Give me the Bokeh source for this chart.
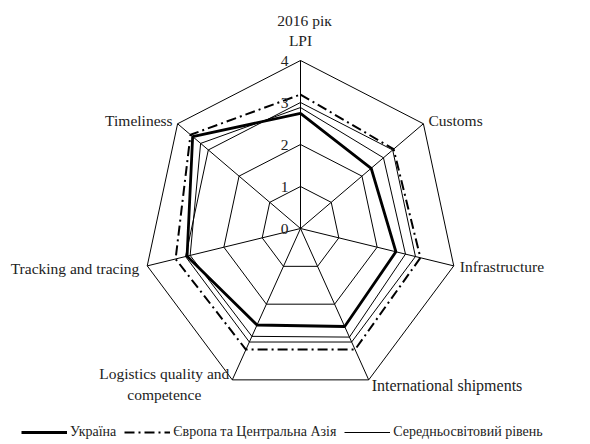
import numpy as np
from bokeh.plotting import figure
from bokeh.models import Range1d, Legend, LegendItem
from bokeh.core.properties import value
from bokeh.embed import file_html
from bokeh.resources import INLINE

# ---- data ----
categories = ["LPI", "Customs", "Infrastructure", "International shipments",
              "Logistics quality and competence", "Tracking and tracing", "Timeliness"]
ukraine = [2.74, 2.30, 2.49, 2.59, 2.55, 2.96, 3.51]
europe_ca = [3.19, 3.03, 3.13, 3.20, 3.20, 3.26, 3.58]
world_avg = [2.88, 2.70, 2.74, 2.87, 2.85, 2.88, 3.25]
ticks = [0, 1, 2, 3, 4]
series_names = ["Україна", "Європа та Центральна Азія", "Середньосвітовий рівень"]
title_text = "2016 рік"

# ---- layout ----
W, H = 574, 440
cx, cy = 300, 228          # center in canvas px
kx, ky = 39.3, 42.0        # px per unit
FONT = value("Liberation Serif")
FS = "15.5px"

n = len(categories)
theta = np.arange(n) * 2 * np.pi / n
rmax = ticks[-1]

p = figure(width=W, height=H, output_backend="svg", toolbar_location=None,
           x_range=Range1d(-cx / kx, (W - cx) / kx),
           y_range=Range1d(-(H - cy) / ky, cy / ky),
           min_border=0, outline_line_color=None)
p.axis.visible = False
p.grid.visible = False
p.background_fill_color = "white"


def closed(vals):
    v = np.asarray(vals, dtype=float)
    xs = v * np.sin(theta)
    ys = v * np.cos(theta)
    return list(xs) + [xs[0]], list(ys) + [ys[0]]


# grid polygons
for t in ticks[1:]:
    gx, gy = closed([t] * n)
    p.line(gx, gy, line_color="black", line_width=1)
# spokes
p.segment(x0=[0] * n, y0=[0] * n, x1=list(rmax * np.sin(theta)), y1=list(rmax * np.cos(theta)),
          line_color="black", line_width=1)

# series
wx, wy = closed(world_avg)
r_world = p.line(wx, wy, line_color="black", line_width=1)
ex, ey = closed(europe_ca)
r_eu = p.line(ex, ey, line_color="black", line_width=2, line_dash="10 4 2 4")
ux, uy = closed(ukraine)
r_ua = p.line(ux, uy, line_color="black", line_width=2.8)

# tick labels
p.text(x=[0] * len(ticks), y=ticks, text=[str(t) for t in ticks], x_offset=-16,
       text_align="center", text_baseline="middle", text_font=FONT,
       text_font_size=FS, text_color="#222222")

# category labels
vx = rmax * np.sin(theta)
vy = rmax * np.cos(theta)
lab_cfg = [
    (0, categories[0], "center", 0, -20, FS),
    (1, categories[1], "left", 5, -3, FS),
    (2, categories[2], "left", 6, 1, FS),
    (3, categories[3], "left", 3, 6, "16px"),
    (5, categories[5], "right", -8, 3, FS),
    (6, categories[6], "right", -5, -3, FS),
]
for k, txt, al, xo, yo, fs in lab_cfg:
    p.text(x=[vx[k]], y=[vy[k]], text=[txt], x_offset=xo, y_offset=yo,
           text_align=al, text_baseline="middle", text_font=FONT,
           text_font_size=fs, text_color="#222222")
# two-line label
words = categories[4].split(" ")
p.text(x=[vx[4]], y=[vy[4]], text=[" ".join(words[:3])], x_offset=-68, y_offset=-6,
       text_align="center", text_baseline="middle", text_font=FONT,
       text_font_size=FS, text_color="#222222")
p.text(x=[vx[4]], y=[vy[4]], text=[" ".join(words[3:])], x_offset=-68, y_offset=15,
       text_align="center", text_baseline="middle", text_font=FONT,
       text_font_size=FS, text_color="#222222")
# title
p.text(x=[vx[0]], y=[vy[0]], text=[title_text], x_offset=4, y_offset=-40,
       text_align="center", text_baseline="middle", text_font=FONT,
       text_font_size=FS, text_color="#222222")

legend = Legend(items=[LegendItem(label=series_names[0], renderers=[r_ua]),
                       LegendItem(label=series_names[1], renderers=[r_eu]),
                       LegendItem(label=series_names[2], renderers=[r_world])],
                orientation="horizontal", location=(21, 0),
                border_line_color=None, background_fill_alpha=0,
                padding=0, margin=0, spacing=8, label_standoff=3,
                glyph_width=46, glyph_height=14, label_height=14,
                label_text_font="Liberation Serif", label_text_font_size="14px",
                label_text_color="#222222")
p.add_layout(legend)

open("out.html", "w").write(file_html(p, INLINE))
